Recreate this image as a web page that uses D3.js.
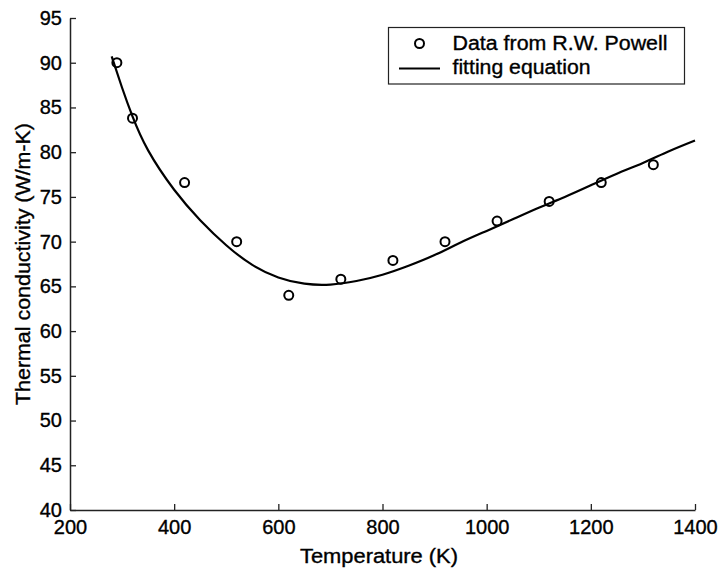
<!DOCTYPE html>
<html>
<head>
<meta charset="utf-8">
<script src="https://cdn.jsdelivr.net/npm/d3@7"></script>
<style>
  html, body { margin: 0; padding: 0; background: #fff; }
  svg { display: block; font-family: "Liberation Sans", Arial, sans-serif; }
  svg text { stroke: #000; stroke-width: 0.35px; fill: #000; }
</style>
</head>
<body>
<svg id="chart" width="722" height="573"></svg>
<script>
// Measured thermal conductivity (R.W. Powell)
const dataTemps = [290, 320, 420, 520, 620, 720, 820, 920, 1020, 1120, 1220, 1320];
const dataK     = [90.0, 83.8, 76.6, 70.0, 64.0, 65.8, 67.9, 70.0, 72.3, 74.5, 76.6, 78.6];

// Fitted curve, sampled along temperature
const fitTemps = [280, 300, 320, 350, 400, 450, 500, 550, 600, 650, 700, 750, 800, 850, 900,
                  950, 1000, 1050, 1100, 1150, 1200, 1250, 1300, 1350, 1400];
const fitK     = [90.7, 87.2, 84.0, 80.2, 75.8, 72.4, 69.6, 67.4, 66.0, 65.3, 65.2, 65.6, 66.3,
                  67.3, 68.5, 69.9, 71.2, 72.5, 73.8, 75.0, 76.3, 77.6, 78.8, 80.1, 81.3];

const xTicks = [200, 400, 600, 800, 1000, 1200, 1400];
const yTicks = [40, 45, 50, 55, 60, 65, 70, 75, 80, 85, 90, 95];

const svg = d3.select("#chart");
const m = { left: 70, right: 27, top: 18, bottom: 63 };
const W = 722, H = 573;
const FS = 20;

const x = d3.scaleLinear().domain([200, 1400]).range([m.left, W - m.right]);
const y = d3.scaleLinear().domain([40, 95]).range([H - m.bottom, m.top]);

// Axes with inward ticks
const xAxis = svg.append("g")
  .attr("transform", `translate(0,${H - m.bottom})`)
  .call(d3.axisBottom(x).tickValues(xTicks).tickFormat(d3.format("d"))
    .tickSizeInner(-6).tickSizeOuter(0).tickPadding(10));
const yAxis = svg.append("g")
  .attr("transform", `translate(${m.left},0)`)
  .call(d3.axisLeft(y).tickValues(yTicks).tickFormat(d3.format("d"))
    .tickSizeInner(-6).tickSizeOuter(0).tickPadding(8));

[xAxis, yAxis].forEach(g => {
  g.select(".domain").attr("stroke", "#222").attr("stroke-width", 1.5);
  g.selectAll(".tick line").attr("stroke", "#222").attr("stroke-width", 1.3);
  g.selectAll(".tick text").attr("fill", "#000").attr("font-size", FS)
    .attr("font-family", "'Liberation Sans', Arial, sans-serif");
});

// Axis titles
svg.append("text")
  .attr("x", 379)
  .attr("y", 563)
  .attr("text-anchor", "middle")
  .attr("font-size", FS)
  .attr("textLength", 158)
  .attr("lengthAdjust", "spacingAndGlyphs")
  .text("Temperature (K)");

svg.append("text")
  .attr("transform", `translate(29.5,${(y.range()[0] + y.range()[1]) / 2}) rotate(-90)`)
  .attr("text-anchor", "middle")
  .attr("font-size", FS)
  .attr("textLength", 282)
  .attr("lengthAdjust", "spacingAndGlyphs")
  .text("Thermal conductivity (W/m-K)");

// Fitting curve
const fit = fitTemps.map((t, i) => [t, fitK[i]]);
svg.append("path")
  .datum(fit)
  .attr("fill", "none")
  .attr("stroke", "#000")
  .attr("stroke-width", 2.2)
  .attr("d", d3.line().x(d => x(d[0])).y(d => y(d[1])).curve(d3.curveNatural));

// Data points
svg.append("g").selectAll("circle")
  .data(dataTemps.map((t, i) => [t, dataK[i]]))
  .join("circle")
  .attr("cx", d => x(d[0]))
  .attr("cy", d => y(d[1]))
  .attr("r", 4.5)
  .attr("fill", "none")
  .attr("stroke", "#000")
  .attr("stroke-width", 2);

// Legend
const lg = svg.append("g");
lg.append("rect")
  .attr("x", 388.5).attr("y", 27.5).attr("width", 296).attr("height", 56.5)
  .attr("fill", "#fff").attr("stroke", "#222").attr("stroke-width", 1.2);
lg.append("circle")
  .attr("cx", 419.5).attr("cy", 43.5).attr("r", 4.5)
  .attr("fill", "none").attr("stroke", "#000").attr("stroke-width", 2);
lg.append("line")
  .attr("x1", 399).attr("x2", 440).attr("y1", 68.5).attr("y2", 68.5)
  .attr("stroke", "#000").attr("stroke-width", 2.2);
lg.append("text").attr("x", 452.5).attr("y", 49.5).attr("font-size", FS)
  .attr("textLength", 215).attr("lengthAdjust", "spacingAndGlyphs")
  .text("Data from R.W. Powell");
lg.append("text").attr("x", 452.5).attr("y", 73.5).attr("font-size", FS)
  .attr("textLength", 138).attr("lengthAdjust", "spacingAndGlyphs")
  .text("fitting equation");
</script>
</body>
</html>
